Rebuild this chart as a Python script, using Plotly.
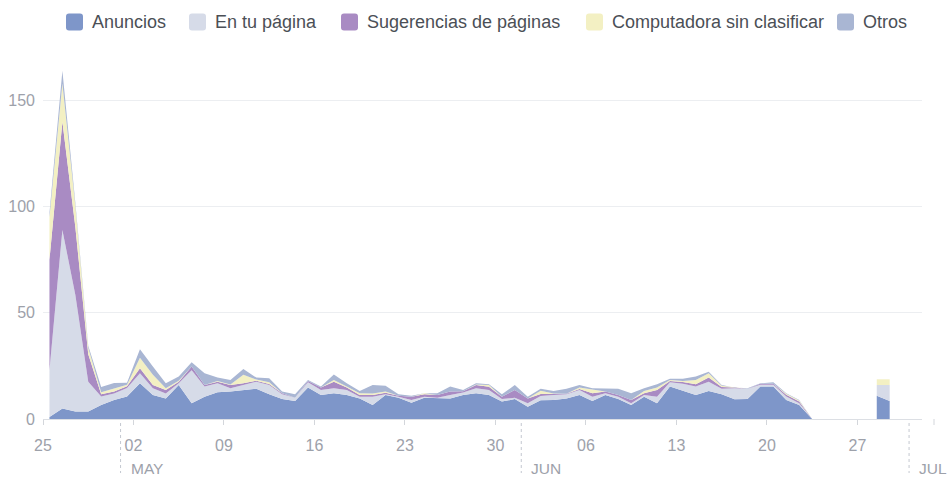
import pandas as pd
import plotly.graph_objects as go

# Daily stories by source, 25 Apr - 29 Jun (None = no data reported)
start = "2016-04-25"
anuncios = [1, 5, 3.5, 3.5, 6.6, 9, 10.6, 16.8, 11.3, 9.7, 16, 7.4, 10.5, 12.6, 12.9, 13.7,
            14.3, 11.6, 9.4, 8.5, 14.8, 11.3, 12.1, 11.3, 9.7, 6.6, 11.3, 10, 7.7, 10, 9.7,
            9.7, 11.3, 12.1, 11.3, 8.2, 9.4, 5.8, 8.8, 9, 9.7, 11.3, 8.5, 11.3, 9.4, 6.6,
            10.5, 7.4, 15.3, 13.3, 11.3, 13.2, 11.6, 9.3, 9.4, 15.3, 15.3, 9, 6.6, 0,
            None, None, None, None, 11, 8.5]
en_tu_pagina = [22, 84, 55, 14, 4, 3, 4, 4.7, 3.2, 2.3, 0.8, 15.6, 4.8, 4.2, 1.6, 2.3,
                3.3, 4.4, 2.2, 1.5, 2.5, 2.4, 2.4, 2.4, 0.8, 3.9, 0.3, 0.5, 1.3, 0.5, 0.3,
                1.6, 1.2, 2.4, 2.4, 1.2, 0.6, 1.6, 2, 2.3, 1.9, 2.4, 2, 0.8, 1.1, 0.8,
                0.8, 3.1, 2, 3.3, 4, 4.4, 2.6, 5.2, 4.8, 0.8, 0.8, 1.6, 0.8, 0,
                None, None, None, None, 5, 7.5]
sugerencias = [52, 51, 32, 13, 1, 1, 0.8, 2.4, 1.5, 1.7, 0.8, 1.7, 0.7, 0.8, 1.5, 0.8,
               0.4, 0.5, 0.5, 0, 0.6, 1.1, 3.1, 1.1, 0.8, 0.8, 0.8, 0.5, 1.5, 1.1, 1.3,
               1.6, 0.6, 1.5, 1.5, 1.1, 3.7, 2.3, 1, 0.4, 0.3, 0.4, 1.6, 0.8, 0.8, 1.5,
               0.8, 3.2, 0.6, 0.8, 1.1, 1.9, 0.9, 0.3, 0, 0.5, 0.5, 0.8, 0.8, 0,
               None, None, None, None, 0, 0]
computadora = [20, 18, 10, 3, 1, 1.5, 0.7, 5, 4.8, 0.8, 0.4, 0, 0, 0.3, 0.3, 4,
               0.6, 0.8, 0, 0, 0, 0, 0.8, 0.5, 0.8, 0.7, 0.5, 0, 0, 0.5, 0,
               0, 0, 0.3, 0.8, 0, 0, 0, 1.5, 0.3, 0, 0.7, 1.6, 0, 0, 0,
               1.1, 1.1, 0.5, 0.5, 2, 2, 0.6, 0, 0, 0, 0, 0.5, 0.5, 0,
               None, None, None, None, 2.7, 2.7]
otros = [2, 6, 1.5, 1, 2.5, 2.5, 1, 4, 3.9, 2.3, 2, 2, 5.5, 1.6, 2.1, 2.8,
         0.9, 1.9, 0.8, 1.6, 0.5, 0.5, 2.6, 1.5, 1.1, 4, 2.7, 0.6, 0.5, 0, 0.8,
         2.4, 0.6, 0.5, 0.4, 1.1, 2.3, 0.8, 1, 1.2, 2.3, 1.2, 0.8, 1.6, 2.9, 3.2,
         1.3, 1.6, 0.5, 1, 1.6, 0.8, 0.3, 0, 0.3, 0.2, 0.7, 0.2, 0.3, 0,
         None, None, None, None, 0, 0]

series_names = ["Anuncios", "En tu página", "Sugerencias de páginas",
                "Computadora sin clasificar", "Otros"]
series_values = [anuncios, en_tu_pagina, sugerencias, computadora, otros]
series_colors = ["#7e96c9", "#d6dbe8", "#a98bc3", "#f3f0c3", "#a9b6d3"]

y_ticks = [0, 50, 100, 150]
month_labels = ["MAY", "JUN", "JUL"]
month_starts = ["2016-05-01", "2016-06-01", "2016-07-01"]

# one point per day, plotted at noon so the weekly ticks sit on day boundaries
dates = pd.date_range(start, periods=len(anuncios), freq="D") + pd.Timedelta(hours=12)
week_ticks = pd.date_range(start, "2016-06-30", freq="7D")

# split the days into contiguous runs with data
segments, run = [], []
for i in range(len(dates)):
    if anuncios[i] is None:
        if run:
            segments.append(run)
        run = []
    else:
        run.append(i)
if run:
    segments.append(run)

fig = go.Figure()
for k, idx in enumerate(segments):
    for name, vals, color in zip(series_names, series_values, series_colors):
        fig.add_trace(go.Scatter(
            x=[dates[i] for i in idx], y=[vals[i] for i in idx],
            name=name, mode="lines", stackgroup=f"run{k}",
            line=dict(width=0, color=color), fillcolor=color,
            showlegend=False, hoverinfo="x+y+name",
        ))

W, H = 947, 478
L, R, T, B = 43, 25, 58, 59
pw, ph = W - L - R, H - T - B


def px(x):
    return (x - L) / pw


def py(y):
    return (H - B - y) / ph


shapes, annotations = [], []

# legend: rounded swatches with labels
legend_x = [66, 189, 341, 586, 837]
for name, color, lx in zip(series_names, series_colors, legend_x):
    s, r, cy = 17, 3, 22
    x0, x1, y0, y1 = lx, lx + s, cy - s / 2, cy + s / 2
    pts = (f"M {px(x0 + r)},{py(y0)} L {px(x1 - r)},{py(y0)} "
           f"Q {px(x1)},{py(y0)} {px(x1)},{py(y0 + r)} L {px(x1)},{py(y1 - r)} "
           f"Q {px(x1)},{py(y1)} {px(x1 - r)},{py(y1)} L {px(x0 + r)},{py(y1)} "
           f"Q {px(x0)},{py(y1)} {px(x0)},{py(y1 - r)} L {px(x0)},{py(y0 + r)} "
           f"Q {px(x0)},{py(y0)} {px(x0 + r)},{py(y0)} Z")
    shapes.append(dict(type="path", xref="paper", yref="paper", path=pts,
                       fillcolor=color, line=dict(width=0)))
    annotations.append(dict(x=px(lx + 24), y=py(cy), xref="paper", yref="paper",
                            text=name, showarrow=False, xanchor="left", yanchor="middle",
                            font=dict(size=18, color="#4b4f56")))

# month separators and labels under the date axis
for label, ms in zip(month_labels, month_starts):
    shapes.append(dict(type="line", xref="x", yref="paper", x0=ms, x1=ms,
                       y0=py(423), y1=py(473),
                       line=dict(color="#c4c8d0", width=1, dash="dot")))
    annotations.append(dict(x=ms, y=py(468), xref="x", yref="paper", text=label,
                            showarrow=False, xanchor="left", yanchor="middle", xshift=8,
                            font=dict(size=15.5, color="#9da1aa")))

# small end tick past the right of the axis
shapes.append(dict(type="line", xref="paper", yref="paper", x0=px(934), x1=px(934),
                   y0=py(419), y1=py(425), line=dict(color="#d3d6db", width=1)))

fig.update_layout(
    width=W, height=H,
    margin=dict(l=L, r=R, t=T, b=B, autoexpand=False),
    paper_bgcolor="white", plot_bgcolor="white",
    font=dict(family="Liberation Sans, Arial, sans-serif", color="#9da1aa", size=16),
    showlegend=False,
    shapes=shapes, annotations=annotations,
    xaxis=dict(
        type="date", range=["2016-04-25", "2016-07-02"], automargin=False,
        tickvals=list(week_ticks), tickformat="%d",
        ticks="outside", ticklen=5, tickcolor="#d3d6db",
        ticklabelstandoff=7,
        showgrid=False, zeroline=False,
        showline=True, linecolor="#dcdfe4", linewidth=1,
        tickfont=dict(size=16, color="#9da1aa"),
    ),
    yaxis=dict(
        range=[0, 170], tickvals=y_ticks, automargin=False,
        showgrid=True, gridcolor="#eceef1", gridwidth=1,
        zeroline=False, showline=False, ticks="",
        ticklabelstandoff=7,
        tickfont=dict(size=16, color="#9da1aa"),
    ),
)

fig.write_html("out.html")
